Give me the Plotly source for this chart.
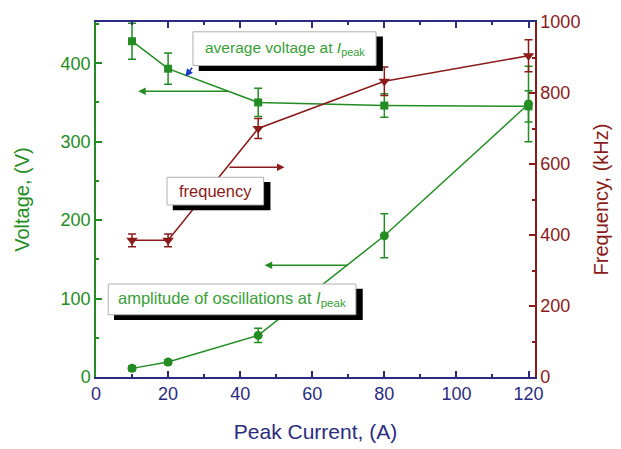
import plotly.graph_objects as go

current = [10, 20, 45, 80, 120]
avg_voltage = [428, 393, 350, 346, 345]
avg_voltage_err = [23, 20, 18, 15, 20]
amplitude = [11, 19, 53, 180, 348]
amplitude_err = [3, 3, 9, 28, 48]
frequency = [385, 385, 700, 833, 905]
frequency_err = [18, 18, 28, 40, 45]

GREEN = "#238c23"
GREEN_T = "#38a038"
RED = "#8b1a1a"
NAVY = "#2b2b80"
FONT = "Liberation Sans"

fig = go.Figure()
fig.add_trace(go.Scatter(x=current, y=avg_voltage, mode="lines+markers",
                         line=dict(color=GREEN, width=1.5),
                         marker=dict(symbol="square", size=8, color=GREEN),
                         error_y=dict(type="data", array=avg_voltage_err, color=GREEN, thickness=1.5, width=4)))
fig.add_trace(go.Scatter(x=current, y=amplitude, mode="lines+markers",
                         line=dict(color=GREEN, width=1.5),
                         marker=dict(symbol="circle", size=9, color=GREEN),
                         error_y=dict(type="data", array=amplitude_err, color=GREEN, thickness=1.5, width=4)))
fig.add_trace(go.Scatter(x=current, y=frequency, mode="lines+markers", yaxis="y2",
                         line=dict(color=RED, width=1.5),
                         marker=dict(symbol="triangle-down", size=10, color=RED),
                         error_y=dict(type="data", array=frequency_err, color=RED, thickness=1.5, width=4)))

def box(x0, x1, y0, y1, text, color, tx, ty, size=16):
    # shadow
    fig.add_shape(type="rect", xref="x", yref="y", x0=x0 + 1.6, x1=x1 + 1.9, y0=y0 - 6.8, y1=y1 - 6,
                  fillcolor="black", line=dict(width=0), layer="above")
    fig.add_shape(type="rect", xref="x", yref="y", x0=x0, x1=x1, y0=y0, y1=y1,
                  fillcolor="white", line=dict(color="#b0b0b0", width=1), layer="above")
    fig.add_annotation(x=tx, y=ty, xref="x", yref="y", text=text, showarrow=False,
                       font=dict(family=FONT, size=size, color=color))

box(26.9, 77.7, 397, 440, "average voltage at <i>I</i><sub>peak</sub>", GREEN_T, 52.3, 418.5, 15.5)
box(19.7, 46.5, 219.3, 254.6, "frequency", RED, 33.1, 237, 16.5)
box(3.4, 72.1, 79.4, 118.5, "amplitude of oscillations at <i>I</i><sub>peak</sub>", GREEN_T, 37.8, 99, 16.5)

def arrow(x0, y0, x1, y1, color, size=1.0, width=1.5):
    fig.add_annotation(x=x1, y=y1, ax=x0, ay=y0, xref="x", yref="y", axref="x", ayref="y",
                       text="", showarrow=True, arrowhead=2, arrowsize=size,
                       arrowwidth=width, arrowcolor=color)

arrow(37.1, 364.3, 11.7, 364.3, GREEN)
arrow(36.6, 267.2, 52.3, 267.2, RED)
arrow(70.2, 142.4, 46.8, 142.4, GREEN)
arrow(27.0, 396, 24.8, 383, "#1a3ac8", 1.0, 1.5)

fig.update_layout(
    width=621, height=449,
    margin=dict(l=96, r=84, t=18, b=72),
    plot_bgcolor="white", paper_bgcolor="white",
    showlegend=False,
    font=dict(family=FONT),
    xaxis=dict(range=[0, 121.8], tickvals=[0, 20, 40, 60, 80, 100, 120],
               ticks="inside", ticklen=6, tickwidth=1.5, tickcolor=NAVY,
               minor=dict(dtick=10, tick0=0, ticks="inside", ticklen=3, tickcolor=NAVY),
               showline=True, linecolor=NAVY, linewidth=1.5, mirror="ticks",
               showgrid=False, zeroline=False, automargin=False,
               tickfont=dict(size=18, color=NAVY),
               title=dict(text="Peak Current, (A)", font=dict(size=21, color=NAVY), standoff=21)),
    yaxis=dict(range=[0, 452.5], tickvals=[0, 100, 200, 300, 400],
               ticks="inside", ticklen=6, tickwidth=1.5, tickcolor=GREEN,
               minor=dict(dtick=50, tick0=0, ticks="inside", ticklen=3, tickcolor=GREEN),
               showline=True, linecolor=GREEN, linewidth=1.5,
               showgrid=False, zeroline=False,
               tickfont=dict(size=18, color=GREEN),
               title=dict(text="Voltage, (V)", font=dict(size=20, color=GREEN), standoff=26)),
    yaxis2=dict(range=[0, 1000], overlaying="y", side="right",
                tickvals=[0, 200, 400, 600, 800, 1000],
                ticks="inside", ticklen=6, tickwidth=1.5, tickcolor=RED,
                minor=dict(dtick=100, tick0=0, ticks="inside", ticklen=3, tickcolor=RED),
                showline=True, linecolor=RED, linewidth=1.5,
                showgrid=False, zeroline=False,
                tickfont=dict(size=18, color=RED),
                title=dict(text="Frequency, (kHz)", font=dict(size=20, color=RED), standoff=15)),
)

fig.write_html("out.html")
